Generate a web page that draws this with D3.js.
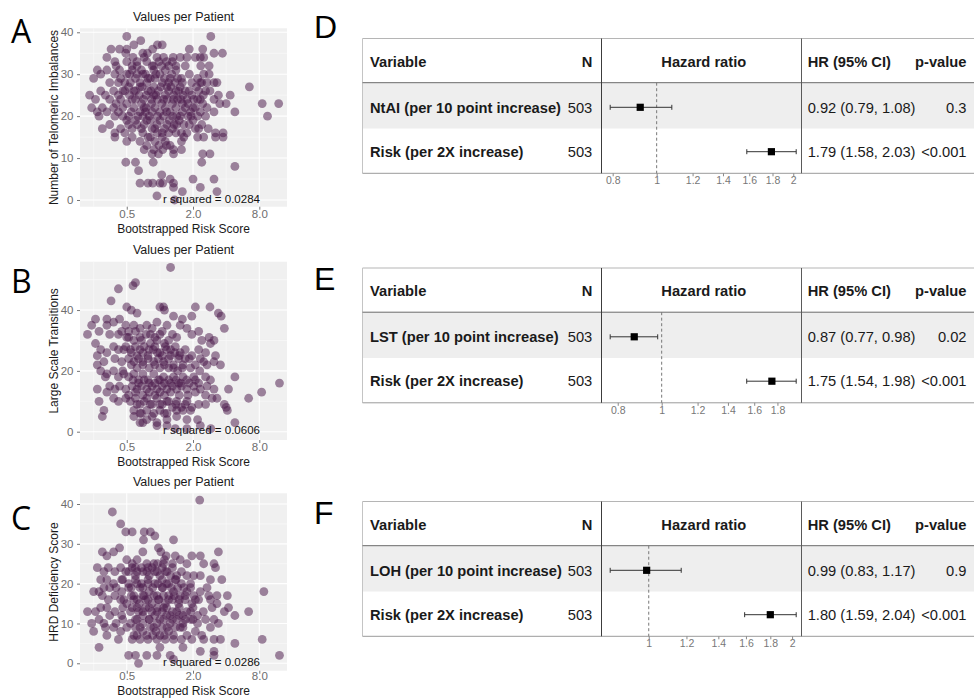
<!DOCTYPE html>
<html><head><meta charset="utf-8">
<script src="https://cdn.jsdelivr.net/npm/d3@7"></script>
<style>body{margin:0;background:#fff}svg{display:block}</style>
</head><body>
<svg id="fig" width="974" height="698"></svg>
<script>
// ---------------- DATA ----------------
const scatterTitle = "Values per Patient";
const scatterXLabel = "Bootstrapped Risk Score";
const scatterXTicks = [0.5, 2.0, 8.0];
const scatterYLabels = ["Number of Telomeric Imbalances", "Large Scale Transitions", "HRD Deficiency Score"];
const rSquaredLabels = ["r squared = 0.0284", "r squared = 0.0606", "r squared = 0.0286"];
const yTicksA = [0, 10, 20, 30, 40];
const yTicksB = [0, 20, 40];
const yTicksC = [0, 10, 20, 30, 40];

// [risk score, NtAI]
const pointsA = [
[0.5,39],[2.9,39],[0.67,38],[0.58,37],[1.05,37],[0.36,36],[0.43,36],[0.86,36],[1.85,36],[2.45,36],[0.95,37],[0.5,36],
[0.33,34],[0.39,33],[0.49,35],[0.57,34],[0.7,35],[0.77,35],[0.94,34],[1.08,34],[1.32,34],[1.53,34],[1.76,34],[2.1,34],[2.33,34],[3.1,35],[3.7,35],[2.5,34],[2.8,32],[2.35,32],[0.4,32],[0.5,33],[0.62,32],[0.76,33],[0.88,32],[1.2,32],[1.4,32],[1.7,32],[1.04,32],[0.56,32],[0.85,32],
[0.27,31],[0.29,30],[0.33,31],[0.39,30],[0.43,31],[0.5,30],[0.56,31],[0.62,30],[0.7,30],[0.78,29],[0.88,31],[1.0,30],[1.12,31],[1.24,29],[1.4,31],[1.57,29],[1.85,30],[2.2,29],[2.5,30],[2.8,30],[3.3,28],[0.35,28],[0.42,28],[0.48,28],[0.54,28],[0.66,28],[0.76,28],[0.9,29],[1.05,28],[1.2,28],[1.37,28],[1.6,28],[1.95,28],[2.33,28],[2.68,28],[3.1,28],[0.25,29],
[0.23,25],[0.29,26],[0.32,25],[0.38,26],[0.42,25],[0.48,26],[0.53,25],[0.58,26],[0.65,25],[0.71,24],[0.78,26],[0.88,25],[0.97,26],[1.08,24],[1.2,26],[1.33,25],[1.48,26],[1.62,25],[1.85,26],[2.03,24],[2.25,26],[2.48,25],[2.85,26],[3.4,25],[4.35,25],[6.5,27],[8.5,23],[12,23],[9.5,20],[0.44,24],[0.56,24],[0.84,24],[1.33,24],[1.76,24],[2.33,24],[3.1,24],[0.35,24],[0.26,24],[0.66,27],[1.53,27],[0.88,27],[1.16,27],
[0.24,22],[0.27,21],[0.3,22],[0.33,21],[0.38,22],[0.42,21],[0.46,22],[0.52,20],[0.58,22],[0.66,21],[0.72,22],[0.8,20],[0.9,22],[1.0,21],[1.12,22],[1.24,21],[1.4,22],[1.53,20],[1.7,22],[1.9,21],[2.1,22],[2.33,21],[2.68,22],[3.1,21],[3.5,23],[4.0,23],[4.8,21],[0.28,20],[0.39,20],[0.7,20],[1.08,20],[1.42,20],[1.92,20],[2.6,20],
[0.3,17],[0.35,18],[0.39,16],[0.44,17],[0.5,19],[0.56,17],[0.62,18],[0.68,17],[0.76,19],[0.85,17],[0.94,18],[1.05,16],[1.16,18],[1.3,17],[1.42,18],[1.57,16],[1.85,18],[2.1,17],[2.4,18],[2.75,17],[3.2,16],[3.75,16],[0.48,16],[0.78,15],[1.2,16],[1.76,16],
[0.39,15],[0.5,14],[0.56,15],[0.66,14],[0.76,13],[0.9,14],[1.12,14],[1.24,13],[1.57,14],[2.2,15],[2.5,15],[3.2,15],[3.75,15],[0.72,12],[0.88,12],[1.06,12],[1.33,12],[1.57,12],
[0.85,11],[0.97,11],[1.33,11],[2.45,11],[2.85,11],[0.49,9],[0.6,9],[0.87,9],[2.4,9],[4.8,8],
[0.64,7],[1.04,6],[1.24,5],[2.0,5],[3.1,5],[0.66,4],[0.78,4],[0.86,4],[1.0,4],[1.06,4],[1.33,4],[1.33,3],[2.33,3],[3.3,2],[1.6,2],[0.94,1],[1.36,0],
[0.53,30],[0.6,29],[0.68,31],[0.74,30],[0.82,29],[0.92,30],[1.1,29],[1.28,30],[1.45,29],[0.52,27],[0.6,26],[0.69,27],[0.75,25],[0.83,26],[0.92,25],[1.02,27],[1.12,25],[1.26,27],[1.4,26],[1.55,24],[1.7,26],[1.95,25],[2.15,27],
[0.5,23],[0.6,24],[0.68,23],[0.75,22],[0.84,23],[0.95,24],[1.04,23],[1.16,24],[1.3,23],[1.45,24],[1.6,23],[1.8,23],[2.0,22],[2.2,24],
[0.55,21],[0.63,20],[0.74,21],[0.85,21],[0.95,20],[1.15,21],[1.3,20],[1.6,21],[1.8,20],[2.2,20],
[0.52,18],[0.6,19],[0.72,18],[0.82,19],[0.9,17],[1.0,19],[1.1,17],[1.22,19],[1.35,18],[1.5,19],[1.65,18],[2.0,19],[2.25,17],
[0.7,16],[0.82,15],[0.95,16],[1.05,15],[1.4,16],[1.65,15],[0.62,33],[0.72,34],[0.98,33],[1.15,33],[1.3,33],[0.46,26],[0.44,29],[0.46,20],[0.4,23],[2.45,23],[2.6,26],[2.4,28],[0.98,13],[1.15,13]
];

// [risk score, LST]
const pointsB = [
[1.25,54],[0.6,49],[0.57,48],[0.42,47],[0.36,43],[0.5,41],[0.55,40],[1.0,41],[1.08,41],[1.1,40],[2.1,41],[2.85,41],[3.4,39],[3.6,38],[3.85,34],[1.33,38],[1.6,37],[1.95,38],[0.62,39],
[0.26,37],[0.24,35],[0.28,33],[0.22,32],[0.33,37],[0.33,35],[0.38,36],[0.43,37],[0.49,35],[0.52,33],[0.35,32],[0.42,32],[0.58,35],[0.66,34],[0.76,35],[0.85,34],[0.94,36],[1.05,33],[1.16,35],[1.3,32],[1.53,35],[1.76,34],[1.95,32],[2.25,33],[2.4,30],[2.8,31],[3.1,30],[0.66,31],[0.82,32],[0.94,30],[1.42,31],[0.58,30],[0.5,31],
[0.26,29],[0.29,27],[0.33,26],[0.27,25],[0.31,23],[0.38,28],[0.42,27],[0.49,28],[0.54,27],[0.6,28],[0.66,27],[0.72,28],[0.8,27],[0.9,28],[1.0,26],[1.12,28],[1.25,27],[1.38,28],[1.53,26],[1.7,27],[1.95,25],[2.25,27],[2.6,26],[2.88,29],
[0.39,24],[0.45,23],[0.52,24],[0.58,23],[0.64,24],[0.7,23],[0.78,24],[0.88,23],[0.97,24],[1.08,23],[1.2,24],[1.33,22],[1.48,24],[1.62,22],[1.85,24],[2.1,22],[2.33,24],[2.68,22],[3.1,23],[3.55,22],[3.2,25],
[0.27,22],[0.29,20],[0.33,19],[0.32,18],[0.38,20],[0.42,18],[0.46,20],[0.52,18],[0.58,19],[0.64,17],[0.7,19],[0.78,17],[0.88,19],[0.97,17],[1.08,18],[1.2,17],[1.33,18],[1.48,16],[1.62,18],[1.85,16],[2.03,18],[2.25,16],[2.6,18],[2.88,17],[4.8,18],
[0.27,14],[0.35,15],[0.39,14],[0.43,15],[0.49,14],[0.56,15],[0.62,14],[0.68,15],[0.76,14],[0.85,15],[0.94,14],[1.05,15],[1.16,14],[1.3,15],[1.42,14],[1.57,15],[1.76,14],[2.03,15],[2.33,14],[2.68,15],[3.1,14],[4.2,14],[12.2,16],[8.4,13],[6.4,11],
[0.33,13],[0.38,11],[0.28,10],[0.31,7],[0.3,5],[0.42,10],[0.49,11],[0.54,10],[0.6,11],[0.66,9],[0.76,11],[0.85,9],[0.94,11],[1.05,9],[1.16,10],[1.3,8],[1.42,10],[1.57,8],[1.76,10],[1.95,8],[2.25,9],[2.6,9],[2.98,11],[3.3,11],[3.85,9],[4.1,7],[0.58,7],[0.66,6],[0.76,7],[0.88,6],[1.0,7],[1.16,6],[1.42,7],[1.62,7],[1.9,7],[4.0,8],
[0.58,5],[0.66,3],[0.76,4],[0.94,3],[1.16,4],[1.42,5],[1.76,4],[2.2,4],[0.94,2],[1.16,2],[1.38,1],[1.76,1],[2.33,2],[2.9,1],[4.8,3],[0.7,3],
[0.52,31],[0.6,33],[0.68,30],[0.75,32],[0.82,29],[0.9,31],[1.0,32],[1.1,29],[1.2,30],[0.55,26],[0.62,25],[0.7,26],[0.78,25],[0.87,27],[0.95,26],[1.05,25],[1.15,27],[1.25,25],[1.36,26],[1.5,25],[1.7,24],
[0.55,22],[0.62,21],[0.7,22],[0.8,21],[0.9,22],[1.0,21],[1.1,22],[1.2,21],[1.33,21],[1.45,20],[1.6,21],[1.9,21],
[0.57,17],[0.64,16],[0.72,17],[0.8,16],[0.9,16],[1.0,17],[1.1,16],[1.25,16],[1.4,17],[1.55,16],[1.75,17],[2.1,17],
[0.6,13],[0.7,12],[0.8,13],[0.9,12],[1.0,13],[1.1,12],[1.25,13],[1.5,12],[1.8,12],[2.1,13],
[0.62,9],[0.72,10],[0.82,9],[1.0,9],[1.2,10],[1.4,9],[1.7,9],[0.52,12],[0.47,19],[0.47,27],[0.45,33],[2.3,20],[2.5,23],[2.6,12],[0.68,6],[0.85,5],[1.1,6]
];

// [risk score, HRD-LOH]
const pointsC = [
[2.3,41],[0.37,38],[0.44,35],[0.49,33],[0.56,33],[0.72,33],[0.82,33],[0.9,32],[1.33,31],[0.71,31],
[0.3,28],[0.33,27],[0.38,28],[0.43,29],[0.5,26],[0.56,25],[0.62,26],[0.7,28],[0.97,29],[1.02,28],[1.14,27],[1.38,27],[1.53,26],[1.76,25],[1.95,27],[2.33,27],[3.4,28],[2.5,25],[3.1,25],[3.2,24],[0.76,25],[0.88,25],[1.08,25],
[0.27,24],[0.31,23],[0.34,24],[0.39,23],[0.44,24],[0.49,23],[0.56,24],[0.62,23],[0.68,24],[0.76,23],[0.85,24],[0.94,23],[1.05,24],[1.16,23],[1.3,24],[1.42,22],[1.57,23],[1.76,22],[2.03,22],[2.33,22],[2.88,21],[3.65,21],[0.29,21],[0.33,21],[0.38,20],[0.45,21],[0.52,20],[0.6,21],[0.68,20],[0.78,21],[0.9,20],[1.05,21],[1.2,20],[1.38,21],[1.57,20],[1.9,20],
[0.25,18],[0.28,18],[0.31,19],[0.35,19],[0.4,19],[0.39,17],[0.45,18],[0.52,19],[0.58,17],[0.66,19],[0.72,17],[0.8,18],[0.94,17],[1.06,19],[1.2,17],[1.33,18],[1.53,17],[1.76,18],[2.03,17],[2.33,18],[2.68,19],[2.78,17],[3.3,17],[8.8,18],
[0.3,17],[0.34,16],[0.44,16],[0.5,15],[0.58,16],[0.65,15],[0.74,16],[0.85,15],[0.97,16],[1.12,15],[1.3,16],[1.48,15],[1.7,16],[1.95,15],[2.25,16],[2.88,16],[3.3,15],[4.1,17],
[0.22,13],[0.26,13],[0.29,14],[0.33,14],[0.39,13],[0.46,14],[0.54,13],[0.62,14],[0.7,13],[0.8,14],[0.94,13],[1.08,14],[1.24,12],[1.42,13],[1.62,12],[1.9,13],[2.2,12],[2.48,13],[2.98,14],[3.85,13],[4.2,14],[4.8,12],[6.4,13],
[0.28,11],[0.31,10],[0.35,12],[0.4,10],[0.46,11],[0.54,10],[0.62,11],[0.7,10],[0.8,11],[0.94,10],[1.08,11],[1.24,10],[1.42,11],[1.62,10],[1.9,11],[2.2,10],[2.6,11],[3.1,11],[3.4,10],[0.24,10],[0.32,9],
[0.25,8],[0.38,9],[0.44,8],[0.5,9],[0.58,7],[0.66,9],[0.76,7],[0.88,9],[1.0,7],[1.16,9],[1.33,7],[1.53,9],[1.76,7],[2.1,8],[2.4,7],[2.88,9],[0.33,7],[0.42,6],[0.56,6],[0.66,6],[0.78,6],[0.94,6],[1.12,6],[1.33,6],[1.57,6],[1.95,6],[2.5,6],[3.1,6],[3.55,6],[4.8,5],[8.5,6],[0.28,4],
[0.52,2],[0.6,2],[0.64,0],[0.76,2],[0.94,2],[1.24,2],[1.33,1],[2.33,3],[3.1,3],[3.1,2],[1.0,4],[1.62,4],[12.2,2],
[0.52,23],[0.6,22],[0.7,23],[0.8,22],[0.9,23],[1.0,22],[1.12,23],[1.25,22],[1.4,21],[0.55,19],[0.62,20],[0.7,19],[0.78,20],[0.86,19],[0.96,20],[1.05,19],[1.15,20],[1.27,19],[1.45,19],[1.65,19],[1.9,19],
[0.55,17],[0.62,16],[0.7,17],[0.78,16],[0.88,17],[0.98,16],[1.08,17],[1.2,16],[1.35,17],[1.5,16],[1.7,17],[2.1,16],
[0.56,14],[0.64,13],[0.74,14],[0.84,13],[0.95,14],[1.05,13],[1.15,14],[1.3,13],[1.5,14],[1.75,13],[2.0,14],
[0.6,11],[0.7,12],[0.8,11],[0.9,12],[1.0,11],[1.15,12],[1.3,11],[1.5,12],[1.7,11],[2.0,11],
[0.6,9],[0.7,8],[0.82,9],[0.92,8],[1.05,9],[1.2,8],[1.38,9],[1.62,9],[0.62,7],[0.86,7],[1.1,7],[0.6,24],[0.78,24],[0.95,25],[1.1,26],[1.3,25],[0.47,16],[0.45,12],[0.46,21]
];

// Forest plots
const forestHeaders = ["Variable", "N", "Hazard ratio", "HR (95% CI)", "p-value"];
const forestTicks = [0.8, 1, 1.2, 1.4, 1.6, 1.8, 2];
const varsD = ["NtAI (per 10 point increase)", "Risk (per 2X increase)"];
const nD = [503, 503];
const hrD = [0.92, 1.79];
const loD = [0.79, 1.58];
const hiD = [1.08, 2.03];
const pD = ["0.3", "<0.001"];
const varsE = ["LST (per 10 point increase)", "Risk (per 2X increase)"];
const nE = [503, 503];
const hrE = [0.87, 1.75];
const loE = [0.77, 1.54];
const hiE = [0.98, 1.98];
const pE = ["0.02", "<0.001"];
const varsF = ["LOH (per 10 point increase)", "Risk (per 2X increase)"];
const nF = [503, 503];
const hrF = [0.99, 1.80];
const loF = [0.83, 1.59];
const hiF = [1.17, 2.04];
const pF = ["0.9", "<0.001"];

// ---------------- DRAWING ----------------
const svg = d3.select("#fig");
const SANS = "'Liberation Sans', Arial, sans-serif";
const PX0 = 80, PX1 = 287;
const xScatter = d3.scaleLog().base(2).domain([0.188, 14.28]).range([PX0, PX1]);
const ptColor = "rgb(74,24,74)";

function drawScatter(cfg) {
  const g = svg.append("g");
  const y = d3.scaleLinear().domain(cfg.yDomain).range([cfg.bottom, cfg.top]);
  g.append("rect").attr("x", PX0).attr("y", cfg.top).attr("width", PX1 - PX0)
    .attr("height", cfg.bottom - cfg.top).attr("fill", "#f0f0f0");
  // minor grid
  [0.25, 1, 4].forEach(v => g.append("line").attr("x1", xScatter(v)).attr("x2", xScatter(v))
    .attr("y1", cfg.top).attr("y2", cfg.bottom).attr("stroke", "#fafafa").attr("stroke-width", 0.6));
  cfg.yMinor.forEach(v => g.append("line").attr("x1", PX0).attr("x2", PX1)
    .attr("y1", y(v)).attr("y2", y(v)).attr("stroke", "#fafafa").attr("stroke-width", 0.6));
  // major grid
  scatterXTicks.forEach(v => g.append("line").attr("x1", xScatter(v)).attr("x2", xScatter(v))
    .attr("y1", cfg.top).attr("y2", cfg.bottom).attr("stroke", "#ffffff").attr("stroke-width", 1.1));
  cfg.yTicks.forEach(v => g.append("line").attr("x1", PX0).attr("x2", PX1)
    .attr("y1", y(v)).attr("y2", y(v)).attr("stroke", "#ffffff").attr("stroke-width", 1.1));
  // points
  g.append("g").selectAll("circle").data(cfg.data).join("circle")
    .attr("cx", d => xScatter(d[0])).attr("cy", d => y(d[1])).attr("r", 4.4)
    .attr("fill", ptColor).attr("fill-opacity", 0.52);
  // axes
  const ax = g.append("g").attr("transform", `translate(${PX0},0)`)
    .call(d3.axisLeft(y).tickValues(cfg.yTicks).tickSize(3).tickPadding(3.5).tickSizeOuter(0));
  ax.select(".domain").remove();
  ax.selectAll("line").attr("stroke", "#777");
  ax.selectAll("text").attr("fill", "#6e6e6e").style("font-family", SANS).style("font-size", "11.5px");
  const bx = g.append("g").attr("transform", `translate(0,${cfg.bottom})`)
    .call(d3.axisBottom(xScatter).tickValues(scatterXTicks).tickFormat(d3.format(".1f")).tickSize(3).tickSizeOuter(0));
  bx.select(".domain").remove();
  bx.selectAll("line").attr("stroke", "#777");
  bx.selectAll("text").attr("fill", "#6e6e6e").style("font-family", SANS).style("font-size", "11.5px")
    .attr("y", cfg.tickLabelY - cfg.bottom).attr("dy", null);
  // titles
  const mid = (PX0 + PX1) / 2;
  g.append("text").attr("x", mid).attr("y", cfg.top - 7.5).attr("text-anchor", "middle")
    .style("font-family", SANS).style("font-size", "12.5px").attr("fill", "#1a1a1a").text(scatterTitle);
  g.append("text").attr("x", mid).attr("y", cfg.xTitleY).attr("text-anchor", "middle")
    .style("font-family", SANS).style("font-size", "12px").attr("fill", "#1a1a1a").text(scatterXLabel);
  g.append("text").attr("transform", `translate(57.5,${(cfg.top + cfg.bottom) / 2}) rotate(-90)`)
    .attr("text-anchor", "middle").style("font-family", SANS).style("font-size", "12px")
    .attr("fill", "#1a1a1a").text(cfg.yLabel);
  g.append("text").attr("x", 211.5).attr("y", y(0) + 2.8).attr("text-anchor", "middle")
    .style("font-family", SANS).style("font-size", "11.5px").attr("fill", "#111").text(cfg.rsq);
  g.append("text").attr("x", 11).attr("y", cfg.letterY).style("font-family", "'Open Sans', sans-serif")
    .style("font-size", "32px").attr("fill", "#000").text(cfg.letter);
}

drawScatter({data: pointsA, top: 28.3, bottom: 206.7, yDomain: [-1.6, 40.95], yTicks: yTicksA,
  yMinor: [5, 15, 25, 35], tickLabelY: 217.7, xTitleY: 233, yLabel: scatterYLabels[0], rsq: rSquaredLabels[0], letter: "A", letterY: 43});
drawScatter({data: pointsB, top: 261.7, bottom: 440, yDomain: [-2.73, 55.9], yTicks: yTicksB,
  yMinor: [10, 30, 50], tickLabelY: 450.5, xTitleY: 465.5, yLabel: scatterYLabels[1], rsq: rSquaredLabels[1], letter: "B", letterY: 293});
drawScatter({data: pointsC, top: 493.3, bottom: 670.7, yDomain: [-1.86, 42.69], yTicks: yTicksC,
  yMinor: [5, 15, 25, 35], tickLabelY: 680, xTitleY: 694.5, yLabel: scatterYLabels[2], rsq: rSquaredLabels[2], letter: "C", letterY: 530});

// Forest plots
const TL = 362.5, TR = 990, V1 = 601.5, V2 = 801.5;
function drawForest(cfg) {
  const g = svg.append("g");
  const top = cfg.top, hSep = top + 44.2, split = top + 90, bot = top + 134.8;
  const x = d3.scaleLog().domain([d3.min(cfg.lo), d3.max(cfg.hi)]).range([610.2, 796.2]);
  g.append("rect").attr("x", TL).attr("y", hSep).attr("width", TR - TL).attr("height", split - hSep).attr("fill", "#eeeeee");
  const ln = (x1, y1, x2, y2, c) => g.append("line").attr("x1", x1).attr("y1", y1).attr("x2", x2).attr("y2", y2)
    .attr("stroke", c).attr("stroke-width", 1);
  ln(TL, top, TR, top, "#b5b5b5");
  ln(TL, top, TL, bot, "#c4c4c4");
  ln(TL, hSep, TR, hSep, "#6a6a6a");
  ln(TL, bot, TR, bot, "#9a9a9a");
  ln(V1, top, V1, bot, "#3c3c3c");
  ln(V2, top, V2, bot, "#5a5a5a");
  // reference line at HR = 1
  g.append("line").attr("x1", x(1)).attr("x2", x(1)).attr("y1", hSep).attr("y2", bot)
    .attr("stroke", "#777").attr("stroke-dasharray", "3,2.5").attr("stroke-width", 1);
  const txt = (tx, ty, s, anchor, bold) => g.append("text").attr("x", tx).attr("y", ty)
    .attr("text-anchor", anchor).style("font-family", SANS).style("font-size", "14.7px")
    .style("font-weight", bold ? "bold" : "normal").attr("fill", "#1a1a1a").text(s);
  const hy = top + 28.4;
  txt(370, hy, forestHeaders[0], "start", true);
  txt(592.3, hy, forestHeaders[1], "end", true);
  txt(703.8, hy, forestHeaders[2], "middle", true);
  txt(807.7, hy, forestHeaders[3], "start", true);
  txt(966.5, hy, forestHeaders[4], "end", true);
  const rowY = [top + 74, top + 118.4];
  const rowC = [top + 68.8, top + 113.2];
  cfg.vars.forEach((v, i) => {
    txt(370, rowY[i], v, "start", true);
    txt(592.3, rowY[i], String(cfg.n[i]), "end", false);
    txt(807.7, rowY[i], `${cfg.hr[i].toFixed(2)} (${cfg.lo[i].toFixed(2)}, ${cfg.hi[i].toFixed(2)})`, "start", false);
    txt(966.5, rowY[i], cfg.p[i], "end", false);
    const cy = rowC[i];
    ln(x(cfg.lo[i]), cy, x(cfg.hi[i]), cy, "#333");
    ln(x(cfg.lo[i]), cy - 2.5, x(cfg.lo[i]), cy + 2.5, "#333");
    ln(x(cfg.hi[i]), cy - 2.5, x(cfg.hi[i]), cy + 2.5, "#333");
    g.append("rect").attr("x", x(cfg.hr[i]) - 3.6).attr("y", cy - 3.6).attr("width", 7.2).attr("height", 7.2).attr("fill", "#000");
  });
  // axis
  const ticks = forestTicks.filter(t => t >= x.domain()[0] && t <= x.domain()[1]);
  const ax = g.append("g").attr("transform", `translate(0,${bot})`)
    .call(d3.axisBottom(x).tickValues(ticks).tickFormat(d3.format("~g")).tickSize(3).tickPadding(1).tickSizeOuter(0));
  ax.select(".domain").remove();
  ax.selectAll("line").attr("stroke", "#888");
  ax.selectAll("text").attr("fill", "#777").style("font-family", "'Liberation Sans Narrow', " + SANS)
    .style("font-size", "10.5px").attr("y", 11).attr("dy", null);
  g.append("text").attr("x", 314).attr("y", cfg.letterY).style("font-family", "'Liberation Sans Narrow', sans-serif")
    .style("font-size", "32px").attr("fill", "#000").text(cfg.letter);
}

drawForest({top: 38.5, vars: varsD, n: nD, hr: hrD, lo: loD, hi: hiD, p: pD, letter: "D", letterY: 38});
drawForest({top: 268, vars: varsE, n: nE, hr: hrE, lo: loE, hi: hiE, p: pE, letter: "E", letterY: 290});
drawForest({top: 501.5, vars: varsF, n: nF, hr: hrF, lo: loF, hi: hiF, p: pF, letter: "F", letterY: 524});
</script>
</body></html>
